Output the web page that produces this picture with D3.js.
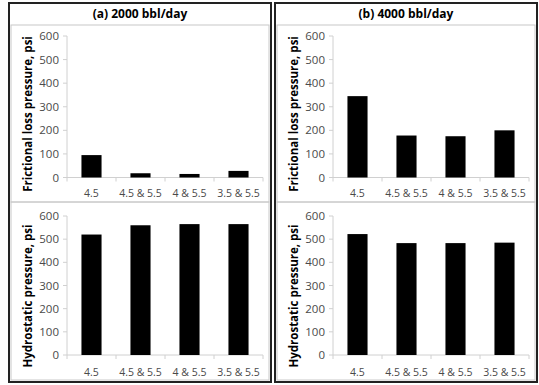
<!DOCTYPE html>
<html><head><meta charset="utf-8">
<script src="https://cdn.jsdelivr.net/npm/d3@7"></script>
<style>body{margin:0;background:#fff}svg{display:block}</style>
</head><body>
<script>
const categories = ["4.5", "4.5 & 5.5", "4 & 5.5", "3.5 & 5.5"];
const panelTitles = ["(a) 2000 bbl/day", "(b) 4000 bbl/day"];
const frictional2000 = [95, 18, 15, 28];
const frictional4000 = [345, 178, 175, 200];
const hydrostatic2000 = [520, 560, 565, 565];
const hydrostatic4000 = [522, 483, 483, 485];
const yTicks = [0, 100, 200, 300, 400, 500, 600];
const yTitles = ["Frictional loss pressure, psi", "Hydrostatic pressure, psi"];

const W = 539, H = 385;
const svg = d3.select("body").append("svg").attr("width", W).attr("height", H);
const font = "'Open Sans', 'Noto Sans', sans-serif";

const panels = [
  {x0: 9, x1: 271, title: panelTitles[0], data: [frictional2000, hydrostatic2000]},
  {x0: 275, x1: 537, title: panelTitles[1], data: [frictional4000, hydrostatic4000]}
];
const rows = [
  {top: 25, bottom: 202, yRange: [177.5, 36], xLabY: 193, titleY: 114},
  {top: 202, bottom: 380, yRange: [355, 216], xLabY: 372, titleY: 296}
];

panels.forEach(p => {
  const g = svg.append("g");
  g.append("text").attr("x", (p.x0 + p.x1) / 2).attr("y", 18)
    .attr("text-anchor", "middle").attr("font-family", font).attr("font-weight", "bold")
    .attr("font-size", 12).attr("fill", "#000").text(p.title);
  rows.forEach(r => {
    g.append("rect").attr("x", p.x0 + 2).attr("y", r.top).attr("width", p.x1 - p.x0 - 4)
      .attr("height", r.bottom - r.top).attr("fill", "none").attr("stroke", "#c8c8c8").attr("stroke-width", 1);
  });
  rows.forEach((r, ri) => {
    const vals = p.data[ri];
    const axisX = p.x0 + 58;
    const x = d3.scaleBand().domain(categories).range([axisX, axisX + 196])
      .paddingInner(0.59).paddingOuter(0.295);
    const y = d3.scaleLinear().domain([0, 600]).range(r.yRange);
    const step = x.step();
    g.append("line").attr("x1", axisX).attr("x2", axisX).attr("y1", y(0)).attr("y2", y(600))
      .attr("stroke", "#d0d0d0");
    g.append("line").attr("x1", axisX).attr("x2", axisX + 196).attr("y1", y(0)).attr("y2", y(0))
      .attr("stroke", "#d0d0d0");
    yTicks.forEach(t => {
      g.append("line").attr("x1", axisX - 4).attr("x2", axisX).attr("y1", y(t)).attr("y2", y(t))
        .attr("stroke", "#d0d0d0");
      g.append("text").attr("x", axisX - 8).attr("y", y(t)).attr("dy", "0.35em")
        .attr("text-anchor", "end").attr("font-family", font).attr("font-size", 11.5)
        .attr("fill", "#4a4a4a").text(t);
    });
    d3.range(categories.length + 1).forEach(i => {
      const xx = axisX + i * step;
      g.append("line").attr("x1", xx).attr("x2", xx).attr("y1", y(0)).attr("y2", y(0) + 4)
        .attr("stroke", "#d0d0d0");
    });
    categories.forEach(c => {
      g.append("text").attr("x", x(c) + x.bandwidth() / 2).attr("y", r.xLabY).attr("dy", "0.35em")
        .attr("text-anchor", "middle").attr("font-family", font).attr("font-size", 10.5)
        .attr("fill", "#4a4a4a").text(c);
    });
    categories.forEach((c, i) => {
      g.append("rect").attr("x", x(c)).attr("width", x.bandwidth())
        .attr("y", y(vals[i])).attr("height", y(0) - y(vals[i])).attr("fill", "#000");
    });
    const tx = p.x0 + 19;
    g.append("text").attr("transform", `translate(${tx},${r.titleY}) rotate(-90)`)
      .attr("text-anchor", "middle").attr("dy", "0.35em").attr("font-family", font)
      .attr("font-weight", "bold").attr("font-size", 11.5).attr("fill", "#000").text(yTitles[ri]);
  });
  g.append("rect").attr("x", p.x0).attr("y", 3).attr("width", p.x1 - p.x0).attr("height", 379)
    .attr("fill", "none").attr("stroke", "#222").attr("stroke-width", 2);
});
</script>
</body></html>
